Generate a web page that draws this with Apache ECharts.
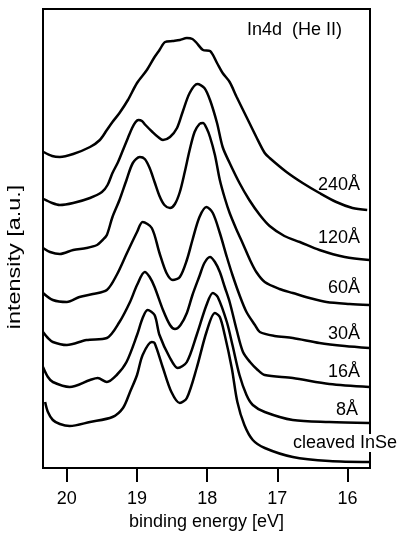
<!DOCTYPE html>
<html>
<head>
<meta charset="utf-8">
<script src="https://cdn.jsdelivr.net/npm/echarts@6/dist/echarts.min.js"></script>
<style>
    html, body { margin: 0; padding: 0; background: #fff; }
    #main { width: 404px; height: 535px; }
</style>
</head>
<body>
<div id="main"></div>
<script type="text/javascript">
    // In4d spectra, binding energy [eV] vs intensity (a.u., offset per film thickness)
    var xTicks = [16, 17, 18, 19, 20];

    var names = ['240Å', '120Å', '60Å', '30Å', '16Å', '8Å', 'cleaved InSe'];

    var s240 = [[20.33,316],[20.21,312],[20.10,311],[19.91,314],[19.67,321],[19.53,328],[19.43,338],[19.35,346],[19.25,355],
        [19.13,368],[19.00,385],[18.86,398],[18.75,411],[18.68,418],[18.60,426],[18.49,427],[18.39,428],[18.29,430],[18.21,429],
        [18.15,425],[18.06,418],[17.96,417],[17.86,405],[17.78,395],[17.68,386],[17.58,371],[17.44,351],[17.30,331],[17.18,315],
        [17.11,310],[16.87,296],[16.64,285],[16.40,275],[16.16,266],[15.93,260],[15.72,258]];

    var s120 = [[20.33,269],[20.21,265],[20.10,263],[19.91,265],[19.67,270],[19.50,276],[19.42,283],[19.35,295],[19.27,306],
        [19.20,318],[19.13,330],[19.07,340],[19.02,346],[18.98,348],[18.93,347],[18.88,343],[18.78,336],[18.70,331],[18.63,328],
        [18.53,331],[18.43,340],[18.35,356],[18.25,375],[18.14,384],[18.04,380],[17.96,368],[17.86,345],[17.78,321],[17.68,305],
        [17.54,285],[17.40,268],[17.25,253],[17.11,242],[16.90,232],[16.68,226],[16.40,218],[16.04,211],[15.69,208]];

    var s60 = [[20.34,220],[20.24,216],[20.10,214],[19.91,218],[19.72,220],[19.57,223],[19.49,228],[19.43,233],[19.35,251],
        [19.25,268],[19.15,288],[19.06,305],[18.96,311],[18.89,309],[18.82,300],[18.75,286],[18.68,272],[18.61,263],[18.53,260],
        [18.46,264],[18.39,276],[18.32,296],[18.25,318],[18.18,336],[18.11,344],[18.06,345],[18.01,340],[17.96,331],[17.89,313],
        [17.82,288],[17.75,270],[17.68,255],[17.58,238],[17.49,224],[17.39,208],[17.30,196],[17.18,186],[16.97,179],[16.78,175],
        [16.54,170],[16.30,166],[15.97,164],[15.69,163]];

    var s30 = [[20.34,175],[20.20,168],[20.00,166],[19.82,171],[19.63,174],[19.43,178],[19.29,193],[19.15,214],[19.00,236],
        [18.92,246],[18.79,240],[18.68,215],[18.58,195],[18.49,188],[18.39,191],[18.29,208],[18.21,228],[18.11,251],[18.01,261],
        [17.92,255],[17.82,235],[17.72,211],[17.64,193],[17.54,173],[17.44,156],[17.32,143],[17.25,136],[17.04,132],[16.78,130],
        [16.40,125],[16.04,122],[15.69,120]];

    var s16 = [[20.34,136],[20.27,130],[20.20,126],[20.00,123],[19.72,128],[19.43,130],[19.25,146],[19.10,166],[19.00,183],
        [18.89,196],[18.82,191],[18.75,181],[18.63,158],[18.53,143],[18.46,139],[18.38,143],[18.29,155],[18.21,173],[18.11,192],
        [18.04,205],[17.96,211],[17.89,206],[17.82,196],[17.75,181],[17.68,166],[17.58,138],[17.49,116],[17.39,106],[17.28,98],
        [17.18,93],[16.78,90],[16.26,84],[15.69,81]];

    var s8 = [[20.34,101],[20.27,91],[20.20,86],[19.96,81],[19.67,88],[19.56,90],[19.43,86],[19.29,93],[19.15,106],[19.00,133],
        [18.92,150],[18.85,158],[18.75,153],[18.68,133],[18.53,110],[18.42,100],[18.29,106],[18.15,133],[18.01,163],[17.92,175],
        [17.85,171],[17.72,146],[17.64,123],[17.54,93],[17.44,73],[17.35,63],[17.18,56],[16.78,48],[16.26,46],[15.69,45]];

    var s0 = [[20.31,66],[20.27,56],[20.20,48],[20.10,44],[19.96,42],[19.67,46],[19.35,51],[19.20,60],[19.10,76],[19.00,93],
        [18.92,113],[18.79,126],[18.75,125],[18.63,100],[18.51,76],[18.39,65],[18.29,70],[18.15,100],[18.01,136],[17.89,155],
        [17.82,151],[17.75,133],[17.65,100],[17.57,66],[17.47,43],[17.35,28],[17.18,20],[16.78,11],[16.26,7],[15.69,6]];

    var allData = [s240, s120, s60, s30, s16, s8, s0];

    var font = 'Liberation Sans, Arial, sans-serif';

    var myChart = echarts.init(document.getElementById('main'));

    var series = [];
    for (var i = 0; i < allData.length; i++) {
        series.push({
            name: names[i],
            type: 'line',
            data: allData[i],
            showSymbol: false,
            smooth: 0.3,
            lineStyle: { color: '#000', width: 2.5 },
            z: 3
        });
    }

    // curve labels
    function lbl(text, x, y, align, bg) {
        return {
            type: 'text', x: x, y: y, z: 10,
            style: {
                text: text, fill: '#000', font: '18px ' + font,
                align: align, verticalAlign: 'middle',
                backgroundColor: bg ? '#fff' : null
            }
        };
    }

    option = {
        animation: false,
        grid: {
            left: 43, right: 34, top: 9, bottom: 67,
            outerBoundsMode: 'none',
            containLabel: false,
            show: true, borderColor: '#000', borderWidth: 2
        },
        xAxis: {
            type: 'value',
            inverse: true,
            min: 15.68,
            max: 20.34,
            name: 'binding energy [eV]',
            nameLocation: 'middle',
            nameGap: 45,
            nameTextStyle: { color: '#000', fontSize: 18, fontFamily: font },
            axisLine: { lineStyle: { color: '#000', width: 2 } },
            axisTick: { show: true, length: 14, lineStyle: { color: '#000', width: 2 }, customValues: xTicks },
            axisLabel: { color: '#000', fontSize: 18, fontFamily: font, margin: 22, customValues: xTicks },
            splitLine: { show: false }
        },
        yAxis: {
            type: 'value',
            min: 0,
            max: 459,
            axisLine: { show: true, lineStyle: { color: '#000', width: 2 } },
            axisTick: { show: false },
            axisLabel: { show: false },
            splitLine: { show: false }
        },
        graphic: [
            // y axis title, set a bit stretched like the scan
            {
                type: 'text', x: 15, y: 257, rotation: Math.PI / 2, scaleX: 1.3,
                style: { text: 'intensity [a.u.]', fill: '#000', font: '18px ' + font, align: 'center', verticalAlign: 'middle' }
            },
            lbl('In4d  (He II)', 247, 30, 'left'),
            lbl('240Å', 360, 185, 'right'),
            lbl('120Å', 360, 238, 'right'),
            lbl('60Å', 360, 288, 'right'),
            lbl('30Å', 360, 334, 'right'),
            lbl('16Å', 360, 372, 'right'),
            lbl('8Å', 358, 410, 'right'),
            lbl('cleaved InSe', 293, 443, 'left', true)
        ],
        series: series
    };

    myChart.setOption(option);
</script>
</body>
</html>
